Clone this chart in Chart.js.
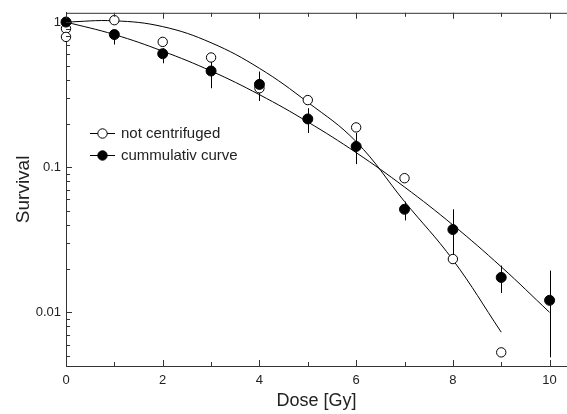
<!DOCTYPE html>
<html>
<head>
<meta charset="utf-8">
<script src="https://cdn.jsdelivr.net/npm/chart.js@4"></script>
<style>
  html, body { margin: 0; padding: 0; background: #fff; }
</style>
</head>
<body>
<canvas id="chart" width="567" height="414"></canvas>
<script>
// measured points, not centrifuged (open circles)
const openDose = [0, 0, 1, 2, 3, 4, 5, 6, 7, 8, 9];
const openSurv = [0.90, 0.79, 1.03, 0.73, 0.57, 0.35, 0.29, 0.188, 0.084, 0.0233, 0.0053];

// cummulativ curve (filled circles) with error bars
const cumDose = [0, 1, 2, 3, 4, 5, 6, 7, 8, 9, 10];
const cumSurv = [1.0, 0.82, 0.605, 0.46, 0.372, 0.215, 0.139, 0.0513, 0.0372, 0.0174, 0.0121];
const cumLow  = [null, 0.70, 0.52, 0.35, 0.286, 0.172, 0.105, 0.043, 0.0252, 0.0136, 0.0049];
const cumHigh = [null, 0.86, 0.66, 0.54, 0.456, 0.255, 0.172, 0.058, 0.0513, 0.021, 0.0194];

// fitted curves
const fitOpenDose = [0, 1, 2, 3, 4, 5, 6, 7, 8, 9];
const fitOpenSurv = [1.0, 1.02, 0.93, 0.72, 0.48, 0.28, 0.15, 0.058, 0.023, 0.0073];
const fitCumDose = [0, 1, 2, 3, 4, 5, 6, 7, 8, 9, 10];
const fitCumSurv = [1.0, 0.82, 0.63, 0.46, 0.316, 0.205, 0.126, 0.073, 0.040, 0.0206, 0.0100];

// axis ticks
const xTicks = [0, 1, 2, 3, 4, 5, 6, 7, 8, 9, 10];
const xLabels = [0, 2, 4, 6, 8, 10];
const yTicks = [0.005, 0.006, 0.007, 0.008, 0.009, 0.01, 0.02, 0.03, 0.04, 0.05, 0.06, 0.07, 0.08, 0.09,
                0.1, 0.2, 0.3, 0.4, 0.5, 0.6, 0.7, 0.8, 0.9, 1];
const yLabels = [0.01, 0.1, 1];

const legendItems = [
  { text: 'not centrifuged', fill: '#fff' },
  { text: 'cummulativ curve', fill: '#000' }
];

const pts = (xs, ys) => xs.map((x, i) => ({ x: x, y: ys[i] }));
const AXIS = '#333';
const FONT = '"Liberation Sans", Arial, sans-serif';

// ticks inside the frame, top line, error bars, legend
const decorPlugin = {
  id: 'decor',
  beforeDatasetsDraw(chart) {
    const { ctx, scales: { x, y } } = chart;
    ctx.save();
    ctx.strokeStyle = '#000';
    ctx.lineWidth = 1;
    cumDose.forEach((d, i) => {
      if (cumLow[i] == null) return;
      const px = Math.round(x.getPixelForValue(d)) + 0.5;
      ctx.beginPath();
      ctx.moveTo(px, y.getPixelForValue(cumHigh[i]));
      ctx.lineTo(px, y.getPixelForValue(cumLow[i]));
      ctx.stroke();
    });
    ctx.restore();
  },
  afterDraw(chart) {
    const { ctx, chartArea: a, scales: { x, y } } = chart;
    ctx.save();
    ctx.strokeStyle = AXIS;
    ctx.lineWidth = 1;
    ctx.beginPath();
    ctx.moveTo(a.left, a.top + 0.5);
    ctx.lineTo(chart.width, a.top + 0.5);
    xTicks.forEach(v => {
      const px = Math.round(x.getPixelForValue(v)) + 0.5;
      const len = xLabels.includes(v) ? 6 : 4;
      ctx.moveTo(px, a.bottom);
      ctx.lineTo(px, a.bottom - len);
      ctx.moveTo(px, a.top);
      ctx.lineTo(px, a.top + len);
    });
    yTicks.forEach(v => {
      const py = Math.round(y.getPixelForValue(v)) + 0.5;
      const len = yLabels.includes(v) ? 6 : 4;
      ctx.moveTo(a.left, py);
      ctx.lineTo(a.left + len, py);
    });
    ctx.stroke();

    // legend
    ctx.font = '15px ' + FONT;
    ctx.textBaseline = 'middle';
    legendItems.forEach((item, i) => {
      const cy = 133 + i * 22;
      ctx.strokeStyle = '#000';
      ctx.beginPath();
      ctx.moveTo(90, cy + 0.5);
      ctx.lineTo(115, cy + 0.5);
      ctx.stroke();
      ctx.beginPath();
      ctx.arc(102.5, cy + 0.5, 4.7, 0, Math.PI * 2);
      ctx.fillStyle = item.fill;
      ctx.fill();
      ctx.stroke();
      ctx.fillStyle = '#222';
      ctx.fillText(item.text, 121, cy + 1);
    });
    ctx.restore();
  }
};

new Chart(document.getElementById('chart'), {
  type: 'scatter',
  data: {
    datasets: [
      {
        label: 'cummulativ curve',
        data: pts(cumDose, cumSurv),
        pointRadius: 5,
        pointBackgroundColor: '#000',
        pointBorderColor: '#000',
        pointBorderWidth: 1,
        clip: false
      },
      {
        label: 'not centrifuged',
        data: pts(openDose, openSurv),
        pointRadius: 4.7,
        pointBackgroundColor: '#fff',
        pointBorderColor: '#000',
        pointBorderWidth: 1,
        clip: false
      },
      {
        label: 'fit not centrifuged',
        data: pts(fitOpenDose, fitOpenSurv),
        showLine: true,
        borderColor: '#000',
        borderWidth: 1,
        pointRadius: 0,
        tension: 0.4
      },
      {
        label: 'fit cummulativ',
        data: pts(fitCumDose, fitCumSurv),
        showLine: true,
        borderColor: '#000',
        borderWidth: 1,
        pointRadius: 0,
        tension: 0.4
      }
    ]
  },
  options: {
    responsive: false,
    animation: false,
    devicePixelRatio: 1,
    layout: { autoPadding: false, padding: { top: 11, right: 0, left: 0, bottom: 0 } },
    plugins: {
      legend: { display: false },
      tooltip: { enabled: false }
    },
    scales: {
      x: {
        type: 'linear',
        min: 0,
        max: 10.36,
        afterBuildTicks: scale => { scale.ticks = xTicks.map(v => ({ value: v })); },
        afterFit: scale => { scale.height = 48; },
        grid: { display: true, drawOnChartArea: false, drawTicks: false },
        border: { display: true, color: AXIS, width: 1 },
        ticks: {
          padding: 7,
          color: '#222',
          maxRotation: 0,
          autoSkip: false,
          font: { family: FONT, size: 13 },
          callback: v => xLabels.includes(v) ? String(v) : ''
        },
        title: {
          display: true,
          text: 'Dose [Gy]',
          color: '#222',
          font: { family: FONT, size: 18 },
          padding: { top: 0, bottom: 2 }
        }
      },
      y: {
        type: 'logarithmic',
        min: 0.00427,
        max: 1.158,
        afterBuildTicks: scale => { scale.ticks = yTicks.map(v => ({ value: v })); },
        afterFit: scale => { scale.width = 66; },
        grid: { display: true, drawOnChartArea: false, drawTicks: false },
        border: { display: true, color: AXIS, width: 1 },
        ticks: {
          padding: 5,
          color: '#222',
          autoSkip: false,
          font: { family: FONT, size: 13 },
          callback: v => yLabels.includes(v) ? String(v) : ''
        },
        title: {
          display: true,
          text: 'Survival',
          color: '#222',
          font: { family: FONT, size: 19 },
          padding: { top: 12, bottom: 0 }
        }
      }
    }
  },
  plugins: [decorPlugin]
});
</script>
</body>
</html>
